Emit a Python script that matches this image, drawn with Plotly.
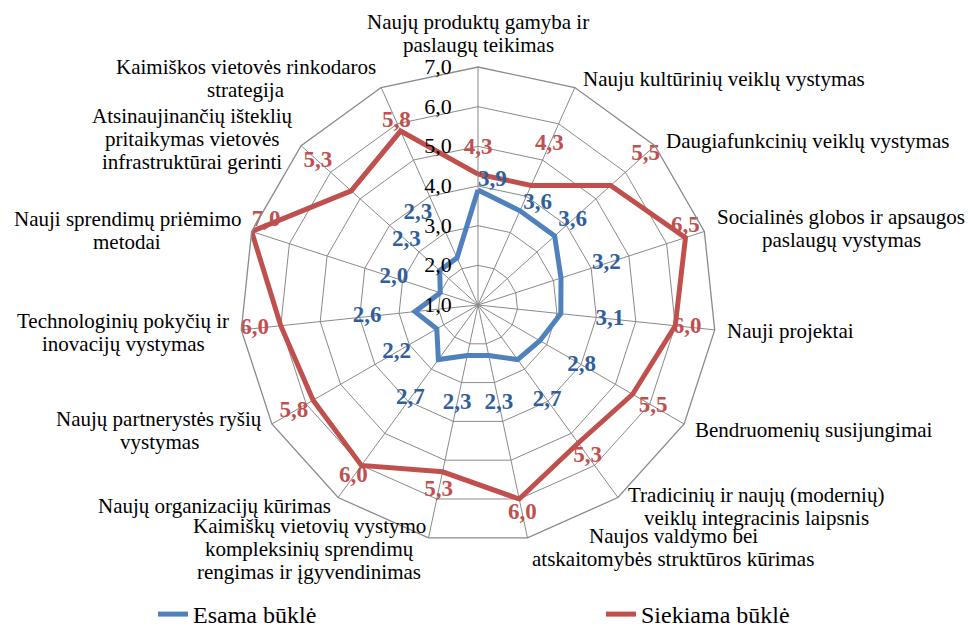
import plotly.graph_objects as go

# ---------------- data ----------------
categories = [
    "Naujų produktų gamyba ir paslaugų teikimas",
    "Nauju kultūrinių veiklų vystymas",
    "Daugiafunkcinių veiklų vystymas",
    "Socialinės globos ir apsaugos paslaugų vystymas",
    "Nauji projektai",
    "Bendruomenių susijungimai",
    "Tradicinių ir naujų (modernių) veiklų integracinis laipsnis",
    "Naujos valdymo bei atskaitomybės struktūros kūrimas",
    "Kaimiškų vietovių vystymo kompleksinių sprendimų rengimas ir įgyvendinimas",
    "Naujų organizacijų kūrimas",
    "Naujų partnerystės ryšių vystymas",
    "Technologinių pokyčių ir inovacijų vystymas",
    "Nauji sprendimų priėmimo metodai",
    "Atsinaujinančių išteklių pritaikymas vietovės infrastruktūrai gerinti",
    "Kaimiškos vietovės rinkodaros strategija",
]
category_lines = [
    ["Naujų produktų gamyba ir", "paslaugų teikimas"],
    ["Nauju kultūrinių veiklų vystymas"],
    ["Daugiafunkcinių veiklų vystymas"],
    ["Socialinės globos ir apsaugos", "paslaugų vystymas"],
    ["Nauji projektai"],
    ["Bendruomenių susijungimai"],
    ["Tradicinių ir naujų (modernių)", "veiklų integracinis laipsnis"],
    ["Naujos valdymo bei", "atskaitomybės struktūros kūrimas"],
    ["Kaimiškų vietovių vystymo", "kompleksinių sprendimų", "rengimas ir įgyvendinimas"],
    ["Naujų organizacijų kūrimas"],
    ["Naujų partnerystės ryšių", "vystymas"],
    ["Technologinių pokyčių ir", "inovacijų vystymas"],
    ["Nauji sprendimų priėmimo", "metodai"],
    ["Atsinaujinančių išteklių", "pritaikymas vietovės", "infrastruktūrai gerinti"],
    ["Kaimiškos vietovės rinkodaros", "strategija"],
]
esama = [3.9, 3.6, 3.6, 3.2, 3.1, 2.8, 2.7, 2.3, 2.3, 2.7, 2.2, 2.6, 2.0, 2.3, 2.3]
siekiama = [4.3, 4.3, 5.5, 6.5, 6.0, 5.5, 5.3, 6.0, 5.3, 6.0, 5.8, 6.0, 7.0, 5.3, 5.8]
series_names = ["Esama būklė", "Siekiama būklė"]
radial_ticks = [1, 2, 3, 4, 5, 6, 7]

# ---------------- style ----------------
W, H = 970, 630
FONT = "Times New Roman, Liberation Serif, DejaVu Serif, serif"
BLUE, RED = "#4F81BD", "#C0504D"
BLUE_TXT, RED_TXT = "#2F5E9C", "#C0504D"
GRID = "#8A8A8A"
cx, cy, R = 478, 305, 238  # polar centre / radius in px

# label placement (radial offsets in data units, text positions)
blue_dr = [0.25, 0.2, 0.61, 1.2, 1.24, 1.22, 1.26, 1.22, 1.23, 1.2, 1.17, 1.21, 1.23, 1.13, 1.54]
blue_pos = ["middle right", "middle right"] + ["middle center"] * 12 + ["bottom left"]
red_dr = [0.65, 1.13, 1.19, 0.0, 0.3, 0.6, 0.4, 0.37, 0.47, 0.35, 0.56, 0.66, 0.0, 1.13, 0.26]
red_pos = ["middle center"] * 3 + ["top center"] + ["middle center"] * 8 + ["top right"] + ["middle center"] * 2

# category label anchor (centre x, first line centre y) in px
cat_anchor = [
    (478, 22), (724, 79), (807, 141), (841, 217), (790, 331), (814, 430),
    (756, 495), (673, 536), (309, 526), (214, 506), (159, 419), (123, 321),
    (127, 219), (192, 116), (246, 67),
]
LINE_GAP = 23


def fmt(v):
    return f"{v:.1f}".replace(".", ",")


def closed(lst):
    return list(lst) + [lst[0]]


fig = go.Figure()
legends = ["legend", "legend2"]
for name, vals, col, lg in [(series_names[0], esama, BLUE, legends[0]),
                            (series_names[1], siekiama, RED, legends[1])]:
    fig.add_trace(go.Scatterpolar(
        r=closed(vals), theta=closed(categories), mode="lines", name=name,
        line=dict(color=col, width=5), hoverinfo="skip", legend=lg,
    ))

for vals, dr, pos, col in [(esama, blue_dr, blue_pos, BLUE_TXT), (siekiama, red_dr, red_pos, RED_TXT)]:
    fig.add_trace(go.Scatterpolar(
        r=[v + d for v, d in zip(vals, dr)], theta=categories, mode="text",
        text=[fmt(v) for v in vals], textposition=pos,
        textfont=dict(family=FONT, size=23, color=col, weight="bold"),
        showlegend=False, cliponaxis=False, hoverinfo="skip",
    ))

annotations = []
for lines, (ax, ay) in zip(category_lines, cat_anchor):
    for k, ln in enumerate(lines):
        annotations.append(dict(
            x=ax / W, y=1 - (ay + k * LINE_GAP) / H, xref="paper", yref="paper",
            text=ln, showarrow=False, xanchor="center", yanchor="middle",
            font=dict(family=FONT, size=21, color="#000000"),
        ))

legend_style = dict(
    orientation="h", yanchor="bottom", xanchor="left", y=-7 / H,
    font=dict(family=FONT, size=24, color="#000000"),
    bgcolor="rgba(0,0,0,0)",
)

fig.update_layout(
    width=W, height=H,
    margin=dict(l=0, r=0, t=0, b=0, autoexpand=False),
    paper_bgcolor="white", plot_bgcolor="white",
    separators=", ",
    font=dict(family=FONT, size=21, color="#000000"),
    polar=dict(
        domain=dict(x=[(cx - R) / W, (cx + R) / W], y=[1 - (cy + R) / H, 1 - (cy - R) / H]),
        gridshape="linear",
        bgcolor="white",
        radialaxis=dict(
            range=[1, 7], tickvals=radial_ticks, tickformat=".1f",
            angle=90, side="counterclockwise", showline=False, tickangle=90,
            ticks="outside", ticklen=18, tickcolor="rgba(0,0,0,0)",
            gridcolor=GRID, gridwidth=1.3,
            tickfont=dict(family=FONT, size=22, color="#000000"),
        ),
        angularaxis=dict(
            direction="clockwise", rotation=90, showticklabels=False, ticks="",
            showline=True, linecolor=GRID, linewidth=1.3,
            gridcolor=GRID, gridwidth=1.3,
        ),
    ),
    showlegend=True,
    legend=dict(x=153 / W, **legend_style),
    legend2=dict(x=601 / W, **legend_style),
    annotations=annotations,
)

fig.write_html("out.html", config={"displayModeBar": False},
               post_script="document.body.style.margin='0';")
